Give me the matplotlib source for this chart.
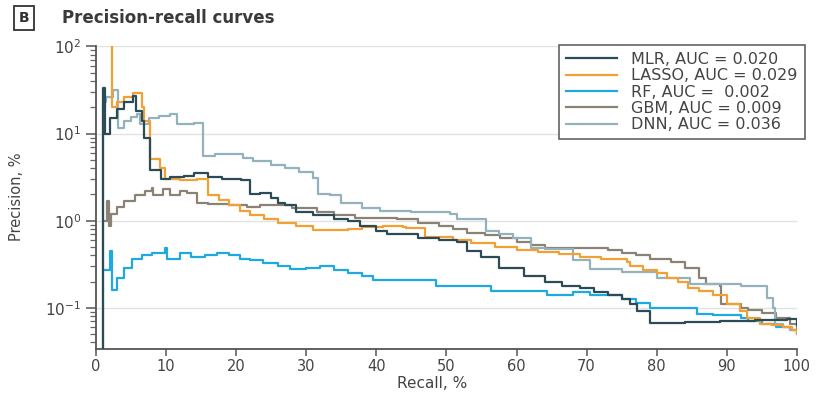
import matplotlib
matplotlib.use("Agg")
import matplotlib.pyplot as plt
from matplotlib.ticker import LogLocator, NullFormatter, FixedLocator

plt.rcParams['font.family'] = ['DejaVu Sans']

# ---- data (recall %, precision %) ----
mlr_recall = [1.0, 1.0, 1.3, 2.0, 3.0, 4.0, 5.3, 5.7, 6.6, 6.9, 7.7, 9.3, 10.5, 12.5, 14.0, 16.0, 18.0,
              20.7, 22.0, 23.4, 25.0, 26.0, 27.0, 28.5, 31.0, 34.0, 36.0, 37.7, 40.0, 41.5, 46.0, 49.0,
              51.5, 53.0, 55.0, 57.5, 61.0, 64.0, 66.5, 69.0, 71.0, 73.0, 75.0, 76.2, 77.2, 79.0, 84.0,
              89.0, 94.0, 98.6, 100.0]
mlr_prec = [0.03, 33, 10, 15, 19, 23, 27, 18, 14, 9, 3.8, 3.0, 3.2, 3.3, 3.5, 3.2, 3.0,
            2.9, 2.0, 2.1, 1.8, 1.6, 1.5, 1.25, 1.15, 1.05, 1.0, 0.87, 0.77, 0.7, 0.64, 0.6,
            0.57, 0.45, 0.38, 0.29, 0.23, 0.2, 0.18, 0.17, 0.15, 0.14, 0.125, 0.11, 0.093, 0.067, 0.068,
            0.07, 0.072, 0.074, 0.063]

lasso_recall = [2.3, 2.3, 3.0, 4.0, 5.3, 6.6, 6.9, 7.7, 9.2, 9.9, 12.0, 14.4, 16.0, 17.5, 19.0, 20.5,
                22.0, 24.0, 26.0, 28.5, 31.0, 33.5, 36.0, 38.0, 41.0, 43.8, 44.2, 47.0, 51.0, 53.5,
                57.0, 60.0, 63.0, 66.0, 69.0, 72.0, 75.7, 76.2, 78.0, 80.0, 81.5, 83.0, 84.5, 86.0,
                88.0, 90.0, 91.9, 92.9, 94.7, 96.5, 98.0, 99.3, 100.0]
lasso_prec = [150, 20, 23, 26, 29, 20, 14, 5.1, 4.0, 3.0, 2.9, 3.0, 1.95, 1.75, 1.5, 1.3,
              1.15, 1.05, 0.95, 0.87, 0.78, 0.78, 0.8, 0.84, 0.87, 0.85, 0.83, 0.65, 0.6, 0.56,
              0.5, 0.46, 0.44, 0.41, 0.38, 0.36, 0.34, 0.3, 0.27, 0.25, 0.22, 0.2, 0.17, 0.155,
              0.14, 0.112, 0.093, 0.077, 0.065, 0.063, 0.06, 0.056, 0.051]

rf_recall = [1.2, 2.0, 2.3, 3.0, 4.0, 5.1, 6.5, 8.0, 9.9, 10.2, 12.0, 13.5, 15.5, 17.2, 19.0, 20.5,
             22.0, 23.8, 26.0, 27.7, 30.0, 32.0, 34.0, 36.0, 38.0, 39.5, 44.0, 48.0, 48.5, 52.0,
             55.8, 56.3, 60.0, 63.8, 64.3, 68.0, 70.5, 72.9, 75.0, 77.0, 79.0, 85.0, 85.7, 88.0,
             92.0, 93.0, 95.0, 97.0, 99.0, 100.0]
rf_prec = [0.27, 0.45, 0.16, 0.22, 0.29, 0.36, 0.40, 0.43, 0.48, 0.36, 0.43, 0.38, 0.40, 0.43, 0.40, 0.36,
           0.35, 0.33, 0.30, 0.28, 0.29, 0.30, 0.27, 0.25, 0.23, 0.21, 0.21, 0.21, 0.18, 0.18,
           0.18, 0.155, 0.155, 0.155, 0.14, 0.15, 0.14, 0.14, 0.125, 0.115, 0.1, 0.1, 0.085, 0.082,
           0.077, 0.07, 0.065, 0.06, 0.055, 0.051]

gbm_recall = [1.2, 1.6, 1.9, 2.1, 3.0, 4.0, 5.6, 7.0, 8.0, 8.2, 9.5, 10.5, 12.0, 13.0, 14.4, 16.0,
              19.0, 21.5, 23.4, 28.0, 31.5, 34.0, 37.0, 40.0, 43.0, 46.0, 49.0, 51.0, 53.0, 55.5,
              57.6, 60.0, 62.0, 64.0, 70.0, 73.0, 75.0, 77.0, 79.0, 82.0, 84.0, 86.0, 87.0, 89.0,
              89.1, 92.0, 93.0, 95.0, 97.0, 99.0, 100.0]
gbm_prec = [1.0, 1.7, 0.88, 1.2, 1.45, 1.7, 1.95, 2.2, 2.4, 1.95, 2.3, 1.95, 2.2, 2.1, 1.6, 1.55,
            1.5, 1.45, 1.5, 1.4, 1.25, 1.15, 1.08, 1.08, 1.05, 0.95, 0.86, 0.8, 0.73, 0.68,
            0.64, 0.57, 0.52, 0.49, 0.48, 0.46, 0.43, 0.40, 0.36, 0.34, 0.29, 0.22, 0.19, 0.18,
            0.11, 0.1, 0.095, 0.087, 0.077, 0.065, 0.055]

dnn_recall = [1.0, 1.0, 1.5, 2.5, 3.2, 4.0, 5.0, 5.8, 6.3, 7.5, 9.0, 10.6, 11.5, 14.0, 15.3, 17.0,
              19.0, 21.0, 22.4, 25.0, 27.0, 29.0, 31.0, 31.7, 33.4, 35.0, 38.0, 40.5, 45.0, 50.5,
              51.5, 55.7, 57.5, 59.5, 62.0, 64.0, 68.0, 70.5, 75.0, 80.0, 84.7, 92.0, 95.7, 96.6,
              96.9, 98.0, 99.0, 100.0]
dnn_prec = [0.03, 23, 26, 32, 11.7, 14, 15.5, 17, 13, 15, 16, 17, 13, 13.4, 5.6, 5.9,
            5.8, 5.3, 4.9, 4.4, 4.0, 3.6, 3.1, 2.05, 1.95, 1.6, 1.4, 1.3, 1.25, 1.2,
            1.05, 0.77, 0.7, 0.64, 0.49, 0.47, 0.35, 0.28, 0.26, 0.22, 0.19, 0.18, 0.13, 0.1,
            0.065, 0.06, 0.055, 0.05]

labels = ["MLR, AUC = 0.020", "LASSO, AUC = 0.029", "RF, AUC =  0.002",
          "GBM, AUC = 0.009", "DNN, AUC = 0.036"]
colors = ["#2b4b56", "#f2a033", "#1ea9e1", "#8b8276", "#93b2be"]
x_ticks = [0, 10, 20, 30, 40, 50, 60, 70, 80, 90, 100]

series = [(mlr_recall, mlr_prec), (lasso_recall, lasso_prec), (rf_recall, rf_prec),
          (gbm_recall, gbm_prec), (dnn_recall, dnn_prec)]
zorders = [6, 5, 3, 2, 4]

fig = plt.figure(figsize=(8.16, 3.93), dpi=100)
ax = fig.add_axes([0.1176, 0.1112, 0.859, 0.7705])

handles = []
for (r, p), lab, c, z in zip(series, labels, colors, zorders):
    h, = ax.plot(r, p, drawstyle='steps-post', color=c, lw=1.6, label=lab, zorder=z)
    handles.append(h)

ax.set_yscale('log')
ax.set_xlim(0, 100)
ax.set_ylim(0.0334, 100)
ax.xaxis.set_major_locator(FixedLocator(x_ticks))
ax.yaxis.set_major_locator(LogLocator(base=10, numticks=10))
ax.yaxis.set_minor_locator(LogLocator(base=10, subs=range(2, 10), numticks=10))
ax.yaxis.set_minor_formatter(NullFormatter())
ax.grid(axis='y', which='major', color='#e2e2e2', lw=1.0, zorder=0)
ax.set_axisbelow(True)
for s in ['top', 'right']:
    ax.spines[s].set_visible(False)
for s in ['left', 'bottom']:
    ax.spines[s].set_color('#555555')
    ax.spines[s].set_linewidth(1.3)
ax.tick_params(axis='both', which='major', direction='out', length=7, width=1.1,
               color='#555555', labelcolor='#444444', labelsize=11)
ax.tick_params(axis='y', which='minor', direction='out', length=4, width=0.9, color='#666666')
ax.tick_params(axis='x', which='major', length=5, pad=2, labelsize=10.5)

fig.text(0.529, 0.024, "Recall, %", ha='center', va='center', fontsize=11, color='#444444')
fig.text(0.02, 0.5, "Precision, %", ha='center', va='center', rotation=90, fontsize=10.5,
         color='#444444')

fig.text(0.0294, 0.955, "B", ha='center', va='center', fontsize=10, fontweight='bold', color='#333333',
         bbox=dict(boxstyle='square,pad=0.35', fc='white', ec='#333333', lw=1.3))
fig.text(0.076, 0.955, "Precision-recall curves", ha='left', va='center', fontsize=12,
         fontweight='semibold', color='#3a3a3a')

leg = ax.legend(handles=handles, loc='upper right', bbox_to_anchor=(0.9865, 0.886),
                bbox_transform=fig.transFigure, borderaxespad=0, fontsize=11.5,
                labelspacing=0.08, handlelength=3.2, handletextpad=0.9, borderpad=0.45,
                fancybox=False, framealpha=1, edgecolor='#555555')
leg.get_frame().set_linewidth(1.1)
for t in leg.get_texts():
    t.set_color('#444444')

fig.savefig("out.png", dpi=100)
